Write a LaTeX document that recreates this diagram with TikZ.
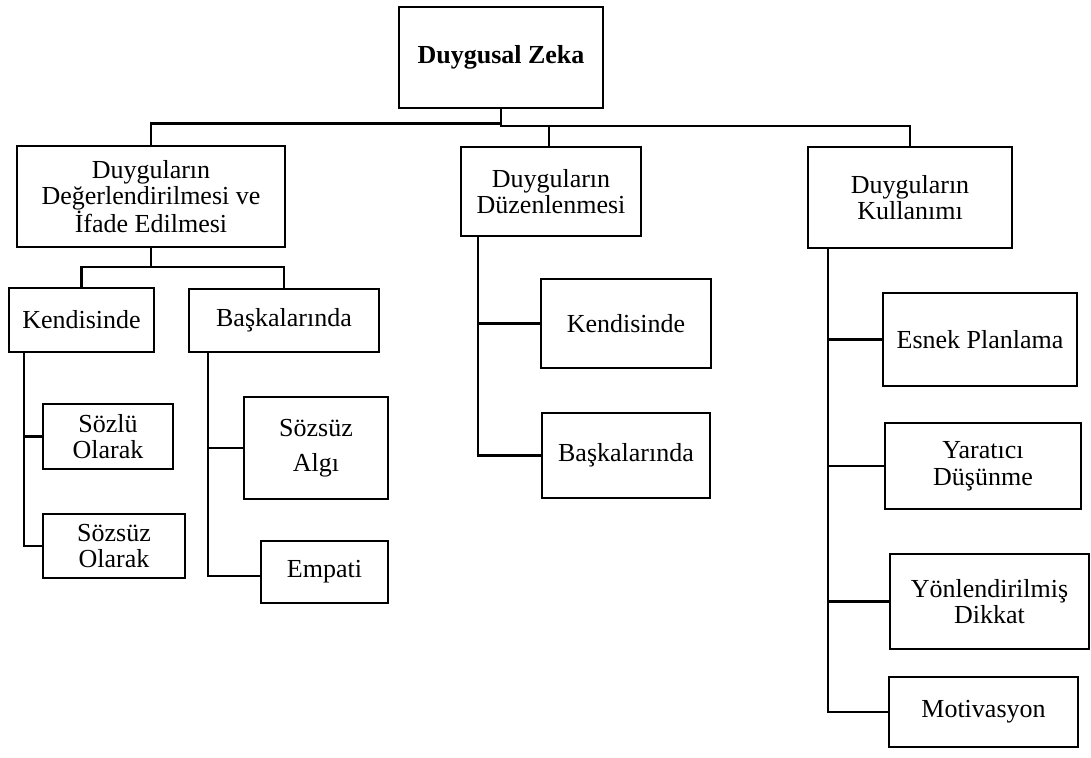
\documentclass[tikz,border=0pt]{standalone}
\usepackage{fontspec}
\setmainfont{Liberation Serif}
\begin{document}
\begin{tikzpicture}[x=1pt,y=-1pt,
  tbox/.style={draw=black,line width=2.9pt,fill=white,rectangle,inner sep=0pt,
    align=center,font=\fontsize{26}{26.5}\selectfont},
  conn/.style={draw=black,line width=2.9pt,line cap=rect,line join=miter}]
  % canvas
  \fill[white] (0,0) rectangle (1091,757);
  \useasboundingbox (0,0) rectangle (1091,757);

  % root
  \node[tbox,minimum width=204pt,minimum height=101pt] (root) at (501,57.5) {\textbf{Duygusal Zeka}};

  % first level
  \node[tbox,minimum width=268pt,minimum height=101pt] (dA) at (151,196.5)
    {Duyguların\\Değerlendirilmesi ve\\İfade Edilmesi};
  \node[tbox,minimum width=180pt,minimum height=89pt] (dB) at (551,191.5)
    {Duyguların\\Düzenlenmesi};
  \node[tbox,minimum width=204pt,minimum height=101pt] (dC) at (910,197.5)
    {Duyguların\\Kullanımı};

  % branch A
  \node[tbox,minimum width=145pt,minimum height=64pt] (kA) at (81.5,320) {Kendisinde};
  \node[tbox,minimum width=190pt,minimum height=63pt] (bA) at (284,320.5) {Başkalarında};
  \node[tbox,minimum width=130pt,minimum height=65pt] (sozlu) at (108,436.5) {Sözlü\\Olarak};
  \node[tbox,minimum width=142pt,minimum height=64pt] (sozsuzO) at (114,546) {Sözsüz\\Olarak};
  \node[tbox,minimum width=144pt,minimum height=102pt] (algi) at (316,448) {Sözsüz\\[8.5pt]Algı};
  \node[tbox,minimum width=127pt,minimum height=62pt] (empati) at (324.5,572) {Empati};

  % branch B
  \node[tbox,minimum width=170pt,minimum height=89pt] (kB) at (626,323.5) {Kendisinde};
  \node[tbox,minimum width=168pt,minimum height=85pt] (bB) at (626,455.5) {Başkalarında};

  % branch C
  \node[tbox,minimum width=194pt,minimum height=93pt] (esnek) at (980,339.5) {Esnek Planlama};
  \node[tbox,minimum width=196pt,minimum height=86pt] (yarat) at (983,466) {Yaratıcı\\Düşünme};
  \node[tbox,minimum width=199pt,minimum height=95pt] (yon) at (989.5,601.5) {Yönlendirilmiş\\Dikkat};
  \node[tbox,minimum width=189pt,minimum height=70pt] (motiv) at (983.5,712) {Motivasyon};

  % root to first level
  \coordinate (jR) at (501,126);
  \draw[conn] (root.south) -- (jR);
  \draw[conn] (root.south |- 0,123.5) -| (dA.north);
  \draw[conn] (jR) -| (dC.north);
  \draw[conn] ([xshift=-2pt]dB.north) -- ([xshift=-2pt]dB.north |- jR);

  % branch A connectors
  \coordinate (jA) at (151,267);
  \draw[conn] (dA.south) -- (jA);
  \draw[conn] (kA.north) |- (jA) -| (bA.north);
  \draw[conn] (kA.south -| 24,0) |- (sozlu.west);
  \draw[conn] (kA.south -| 24,0) |- (sozsuzO.west);
  \draw[conn] (bA.south -| 208,0) |- (algi.west);
  \draw[conn] (bA.south -| 208,0) |- ([yshift=-4pt]empati.west);

  % branch B connectors
  \draw[conn] (dB.south -| 478,0) |- (kB.west);
  \draw[conn] (dB.south -| 478,0) |- (bB.west);

  % branch C connectors
  \draw[conn] (dC.south -| 828,0) |- (esnek.west);
  \draw[conn] (dC.south -| 828,0) |- (yarat.west);
  \draw[conn] (dC.south -| 828,0) |- (yon.west);
  \draw[conn] (dC.south -| 828,0) |- (motiv.west);
\end{tikzpicture}
\end{document}
